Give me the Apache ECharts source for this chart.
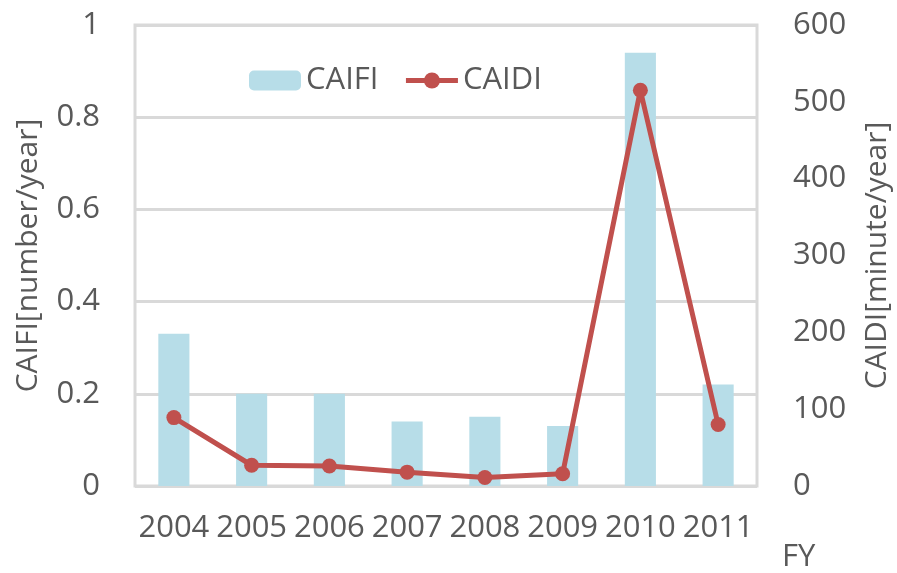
<!DOCTYPE html>
<html>
<head>
<meta charset="utf-8">
<script src="https://cdn.jsdelivr.net/npm/echarts@6/dist/echarts.min.js"></script>
<style>html,body{margin:0;padding:0;background:#fff;}#c{width:897px;height:573px;}</style>
</head>
<body>
<div id="c"></div>
<script>
const categories = ['2004','2005','2006','2007','2008','2009','2010','2011'];
const caifi = [0.33, 0.20, 0.20, 0.14, 0.15, 0.13, 0.94, 0.22];
const caidi = [89, 27, 26, 18, 11, 16, 515, 80];
const leftTicks = { min: 0, max: 1, interval: 0.2 };
const rightTicks = { min: 0, max: 600, interval: 100 };

const FONT = 'Open Sans';
const TXT = '#595959';
const GRID = '#d9d9d9';
const RED = '#c0504d';

const chart = echarts.init(document.getElementById('c'));
chart.setOption({
  animation: false,
  textStyle: { fontFamily: FONT },
  grid: { left: 135, right: 140, top: 25, bottom: 87, show: true, borderColor: GRID, borderWidth: 3, containLabel: false, outerBoundsMode: 'none' },
  legend: {
    top: 60, left: 244, itemWidth: 52, itemHeight: 20, itemGap: 25,
    textStyle: { fontSize: 31, color: TXT, fontFamily: FONT },
    data: [{ name: 'CAIFI' }, { name: 'CAIDI', lineStyle: { width: 5 } }]
  },
  graphic: [{ type: 'text', left: 782, top: 542, style: { text: 'FY', fontSize: 31, fill: TXT, fontFamily: FONT } }],
  xAxis: {
    type: 'category', data: categories,
    axisLine: { show: false }, axisTick: { show: false },
    axisLabel: { fontSize: 31, color: TXT, margin: 27, fontFamily: FONT, interval: 0 }
  },
  yAxis: [{
    type: 'value', min: leftTicks.min, max: leftTicks.max, interval: leftTicks.interval,
    name: 'CAIFI[number/year]', nameLocation: 'middle', nameRotate: 90, nameGap: 92,
    nameTextStyle: { fontSize: 30, color: TXT, fontFamily: FONT },
    axisLine: { show: false }, axisTick: { show: false },
    axisLabel: { fontSize: 31, color: TXT, margin: 35, fontFamily: FONT },
    splitLine: { lineStyle: { color: GRID, width: 3 } }
  }, {
    type: 'value', min: rightTicks.min, max: rightTicks.max, interval: rightTicks.interval,
    name: 'CAIDI[minute/year]', nameLocation: 'middle', nameRotate: 90, nameGap: 105,
    nameTextStyle: { fontSize: 30, color: TXT, fontFamily: FONT },
    axisLine: { show: false }, axisTick: { show: false },
    axisLabel: { fontSize: 31, color: TXT, margin: 36, fontFamily: FONT },
    splitLine: { show: false }
  }],
  series: [{
    name: 'CAIFI', type: 'bar', data: caifi, yAxisIndex: 0, barWidth: '40%',
    itemStyle: { color: '#b7dde8' }
  }, {
    name: 'CAIDI', type: 'line', data: caidi, yAxisIndex: 1,
    symbol: 'circle', symbolSize: 15,
    lineStyle: { color: RED, width: 5 }, itemStyle: { color: RED }
  }]
});
</script>
</body>
</html>
